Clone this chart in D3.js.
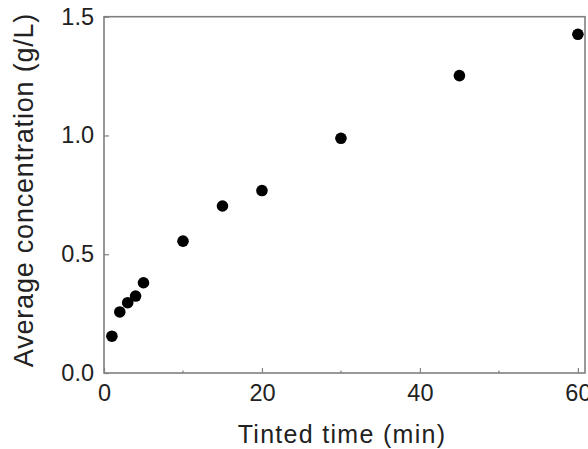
<!DOCTYPE html>
<html>
<head>
<meta charset="utf-8">
<script src="https://cdn.jsdelivr.net/npm/d3@7"></script>
<style>
  body { margin: 0; background: #fff; }
  text { font-family: "Liberation Sans", Arial, sans-serif; fill: #222; }
</style>
</head>
<body>
<div id="vis"></div>
<script>
// datos
const tiempo = [1, 2, 3, 4, 5, 10, 15, 20, 30, 45, 60];
const concentracion = [0.155, 0.257, 0.296, 0.324, 0.38, 0.555, 0.703, 0.768, 0.988, 1.252, 1.426];
const xTicks = [0, 20, 40, 60];
const xMinor = [10, 30, 50];
const yTicks = [0.0, 0.5, 1.0, 1.5];

const w = 588, h = 449;
const margin = {top: 16.7, right: 3, bottom: 76, left: 104};

const svg = d3.select("#vis").append("svg")
  .attr("width", w).attr("height", h);

const x = d3.scaleLinear().domain([0, 60.9]).range([margin.left, w - margin.right]);
const y = d3.scaleLinear().domain([0, 1.5]).range([h - margin.bottom, margin.top]);

const gris = "#808080";

// eje x
const gx = svg.append("g")
  .attr("transform", "translate(0," + y(0) + ")")
  .call(d3.axisBottom(x).tickValues(xTicks).tickFormat(d3.format("d")).tickSizeInner(-5).tickSizeOuter(0).tickPadding(11));
gx.selectAll(".tick line").attr("stroke", gris).attr("stroke-width", 1.2);
gx.selectAll(".tick text").style("font-size", "23.5px").attr("fill", "#222");

svg.append("g")
  .selectAll("line").data(xMinor).enter().append("line")
  .attr("x1", d => x(d)).attr("x2", d => x(d))
  .attr("y1", y(0)).attr("y2", y(0) - 2.5)
  .attr("stroke", gris).attr("stroke-width", 1.2);

// eje y
const gy = svg.append("g")
  .attr("transform", "translate(" + x(0) + ",0)")
  .call(d3.axisLeft(y).tickValues(yTicks).tickFormat(d3.format(".1f")).tickSizeInner(-5).tickSizeOuter(0).tickPadding(10));
gy.selectAll(".tick line").attr("stroke", gris).attr("stroke-width", 1.2);
gy.selectAll(".tick text").style("font-size", "23.5px").attr("fill", "#222");

gx.select(".domain").remove();
gy.select(".domain").remove();

// marco
svg.append("rect")
  .attr("x", x(0)).attr("y", y(1.5))
  .attr("width", x(60.9) - x(0)).attr("height", y(0) - y(1.5))
  .attr("fill", "none").attr("stroke", gris).attr("stroke-width", 1.6);

// puntos
svg.append("g")
  .selectAll("circle").data(tiempo).enter().append("circle")
  .attr("cx", d => x(d))
  .attr("cy", (d, i) => y(concentracion[i]))
  .attr("r", 5.8)
  .attr("fill", "#000");

// titulos de ejes
svg.append("text")
  .attr("x", 342).attr("y", 443)
  .attr("text-anchor", "middle")
  .style("font-size", "25px")
  .style("letter-spacing", "1.3px")
  .text("Tinted time (min)");

svg.append("text")
  .attr("transform", "translate(33,190) rotate(-90)")
  .attr("text-anchor", "middle")
  .style("font-size", "27px")
  .style("letter-spacing", "0.8px")
  .text("Average concentration (g/L)");
</script>
</body>
</html>
